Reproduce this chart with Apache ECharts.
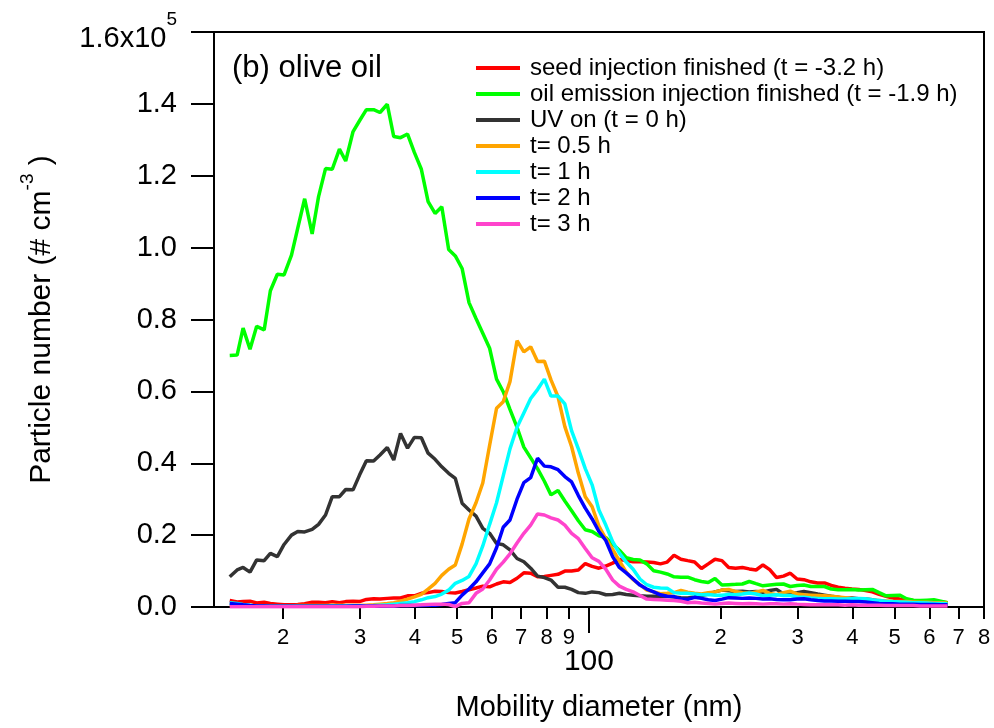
<!DOCTYPE html>
<html>
<head>
<meta charset="utf-8">
<script src="https://cdn.jsdelivr.net/npm/echarts@6/dist/echarts.min.js"></script>
<style>
html, body { margin: 0; padding: 0; background: #fff; }
#chart { width: 994px; height: 728px; }
</style>
</head>
<body>
<div id="chart"></div>
<script>
// mobility diameter channels (nm)
var diameter = [
    15.1, 15.7, 16.2, 16.8, 17.4, 18.1, 18.7, 19.4, 20.1, 20.9,
    21.6, 22.4, 23.3, 24.1, 25.0, 25.9, 26.9, 27.8, 28.9, 29.9,
    31.0, 32.2, 33.3, 34.6, 35.8, 37.1, 38.5, 39.9, 41.4, 42.9,
    44.5, 46.1, 47.8, 49.5, 51.3, 53.2, 55.2, 57.2, 59.3, 61.5,
    63.7, 66.0, 68.5, 71.0, 73.6, 76.3, 79.1, 81.9, 85.0, 88.1,
    91.3, 94.6, 98.1, 101.7, 105.4, 109.3, 113.3, 117.4, 121.7, 126.2,
    130.8, 135.6, 140.6, 145.7, 151.0, 156.5, 162.3, 168.2, 174.4, 180.8,
    187.4, 194.2, 201.4, 208.7, 216.4, 224.3, 232.5, 241.0, 249.9, 259.0,
    268.5, 278.4, 288.6, 299.1, 310.1, 321.5, 333.3, 345.5, 358.1, 371.3,
    384.9, 399.0, 413.6, 428.7, 444.5, 460.7, 477.6, 495.1, 513.3, 532.1,
    551.6, 571.8, 592.8, 614.5, 637.0, 660.3
];

// particle number, x10^5 cm^-3
var seedFinished = [
    0.018, 0.014, 0.015, 0.016, 0.011, 0.013, 0.010, 0.008, 0.006, 0.006,
    0.007, 0.009, 0.013, 0.013, 0.012, 0.015, 0.012, 0.015, 0.016, 0.015,
    0.021, 0.023, 0.022, 0.024, 0.025, 0.025, 0.031, 0.031, 0.038, 0.040,
    0.044, 0.043, 0.040, 0.039, 0.043, 0.048, 0.053, 0.058, 0.056, 0.064,
    0.070, 0.068, 0.080, 0.095, 0.094, 0.084, 0.085, 0.088, 0.091, 0.100,
    0.100, 0.103, 0.121, 0.113, 0.108, 0.114, 0.122, 0.132, 0.129, 0.126,
    0.126, 0.125, 0.124, 0.120, 0.125, 0.144, 0.133, 0.129, 0.125, 0.107,
    0.120, 0.133, 0.129, 0.110, 0.108, 0.110, 0.106, 0.103, 0.117, 0.104,
    0.082, 0.086, 0.094, 0.078, 0.076, 0.070, 0.067, 0.067, 0.060, 0.055,
    0.052, 0.050, 0.049, 0.046, 0.042, 0.035, 0.030, 0.025, 0.022, 0.020,
    0.018, 0.017, 0.016, 0.015, 0.014, 0.012
];
var oilFinished = [
    0.700, 0.701, 0.776, 0.717, 0.781, 0.771, 0.880, 0.926, 0.924, 0.979,
    1.054, 1.136, 1.038, 1.142, 1.220, 1.218, 1.274, 1.241, 1.323, 1.353,
    1.384, 1.384, 1.376, 1.399, 1.309, 1.306, 1.316, 1.265, 1.218, 1.128,
    1.095, 1.114, 0.995, 0.977, 0.942, 0.847, 0.803, 0.762, 0.720, 0.634,
    0.599, 0.550, 0.500, 0.445, 0.415, 0.385, 0.350, 0.312, 0.324, 0.295,
    0.268, 0.240, 0.215, 0.210, 0.198, 0.193, 0.175, 0.158, 0.137, 0.132,
    0.131, 0.120, 0.101, 0.097, 0.092, 0.084, 0.083, 0.083, 0.076, 0.071,
    0.068, 0.079, 0.061, 0.062, 0.063, 0.064, 0.071, 0.065, 0.059, 0.061,
    0.063, 0.064, 0.057, 0.060, 0.061, 0.057, 0.057, 0.057, 0.050, 0.048,
    0.048, 0.049, 0.047, 0.048, 0.049, 0.040, 0.031, 0.032, 0.033, 0.023,
    0.019, 0.018, 0.019, 0.020, 0.016, 0.012
];
var uvOn = [
    0.084, 0.103, 0.110, 0.097, 0.131, 0.129, 0.149, 0.140, 0.174, 0.200,
    0.210, 0.209, 0.216, 0.230, 0.256, 0.307, 0.307, 0.327, 0.326, 0.367,
    0.407, 0.406, 0.423, 0.444, 0.409, 0.483, 0.442, 0.472, 0.471, 0.428,
    0.411, 0.390, 0.372, 0.358, 0.289, 0.270, 0.253, 0.219, 0.205, 0.177,
    0.173, 0.159, 0.135, 0.126, 0.108, 0.086, 0.082, 0.075, 0.055, 0.055,
    0.049, 0.040, 0.038, 0.042, 0.040, 0.034, 0.035, 0.038, 0.035, 0.033,
    0.031, 0.030, 0.030, 0.029, 0.030, 0.028, 0.026, 0.025, 0.028, 0.032,
    0.036, 0.042, 0.047, 0.045, 0.043, 0.044, 0.042, 0.043, 0.041, 0.046,
    0.049, 0.036, 0.038, 0.040, 0.043, 0.040, 0.036, 0.033, 0.030, 0.027,
    0.024, 0.025, 0.023, 0.022, 0.020, 0.016, 0.013, 0.012, 0.012, 0.011,
    0.010, 0.010, 0.009, 0.009, 0.008, 0.008
];
var t05h = [
    0.006, 0.005, 0.004, 0.003, 0.002, 0.002, 0.002, 0.002, 0.003, 0.003,
    0.004, 0.004, 0.004, 0.004, 0.004, 0.005, 0.005, 0.004, 0.004, 0.004,
    0.005, 0.006, 0.008, 0.010, 0.012, 0.016, 0.022, 0.028, 0.035, 0.050,
    0.066, 0.088, 0.105, 0.117, 0.175, 0.245, 0.290, 0.345, 0.450, 0.553,
    0.571, 0.627, 0.741, 0.710, 0.724, 0.683, 0.684, 0.632, 0.585, 0.502,
    0.446, 0.372, 0.307, 0.279, 0.225, 0.190, 0.160, 0.128, 0.097, 0.076,
    0.062, 0.047, 0.042, 0.037, 0.038, 0.040, 0.046, 0.041, 0.038, 0.036,
    0.040, 0.042, 0.047, 0.049, 0.043, 0.040, 0.038, 0.042, 0.046, 0.038,
    0.034, 0.040, 0.044, 0.036, 0.034, 0.033, 0.032, 0.031, 0.030, 0.028,
    0.026, 0.024, 0.022, 0.020, 0.019, 0.018, 0.017, 0.016, 0.015, 0.015,
    0.014, 0.013, 0.013, 0.012, 0.012, 0.011
];
var t1h = [
    0.012, 0.010, 0.007, 0.005, 0.003, 0.002, 0.002, 0.002, 0.002, 0.002,
    0.002, 0.002, 0.002, 0.002, 0.002, 0.003, 0.003, 0.003, 0.003, 0.003,
    0.003, 0.004, 0.005, 0.006, 0.008, 0.010, 0.012, 0.015, 0.020, 0.026,
    0.029, 0.036, 0.047, 0.066, 0.074, 0.085, 0.120, 0.170, 0.230, 0.290,
    0.365, 0.440, 0.500, 0.540, 0.580, 0.605, 0.634, 0.587, 0.587, 0.565,
    0.490, 0.440, 0.385, 0.340, 0.270, 0.228, 0.182, 0.150, 0.125, 0.105,
    0.078, 0.062, 0.055, 0.053, 0.052, 0.040, 0.038, 0.038, 0.036, 0.034,
    0.035, 0.033, 0.033, 0.035, 0.034, 0.036, 0.039, 0.036, 0.031, 0.033,
    0.034, 0.032, 0.032, 0.028, 0.027, 0.025, 0.024, 0.023, 0.023, 0.022,
    0.022, 0.023, 0.024, 0.023, 0.020, 0.018, 0.016, 0.015, 0.014, 0.013,
    0.012, 0.012, 0.011, 0.010, 0.010, 0.009
];
var t2h = [
    0.010, 0.008, 0.006, 0.004, 0.003, 0.003, 0.002, 0.002, 0.002, 0.002,
    0.002, 0.002, 0.002, 0.002, 0.002, 0.002, 0.002, 0.002, 0.003, 0.003,
    0.003, 0.003, 0.003, 0.003, 0.003, 0.004, 0.004, 0.004, 0.004, 0.005,
    0.005, 0.007, 0.010, 0.012, 0.033, 0.050, 0.070, 0.095, 0.120, 0.165,
    0.222, 0.242, 0.300, 0.346, 0.360, 0.414, 0.392, 0.390, 0.382, 0.363,
    0.348, 0.310, 0.275, 0.245, 0.210, 0.185, 0.140, 0.110, 0.095, 0.078,
    0.061, 0.050, 0.042, 0.034, 0.030, 0.029, 0.022, 0.021, 0.027, 0.024,
    0.020, 0.018, 0.022, 0.026, 0.025, 0.024, 0.025, 0.024, 0.022, 0.023,
    0.021, 0.020, 0.020, 0.022, 0.023, 0.020, 0.018, 0.017, 0.017, 0.016,
    0.016, 0.015, 0.015, 0.014, 0.012, 0.010, 0.009, 0.009, 0.008, 0.008,
    0.008, 0.007, 0.007, 0.007, 0.006, 0.006
];
var t3h = [
    0.001, 0.001, 0.001, 0.001, 0.001, 0.001, 0.001, 0.001, 0.001, 0.001,
    0.001, 0.001, 0.001, 0.001, 0.001, 0.001, 0.001, 0.001, 0.001, 0.001,
    0.002, 0.002, 0.003, 0.003, 0.003, 0.004, 0.004, 0.005, 0.006, 0.007,
    0.008, 0.008, 0.007, 0.001, 0.010, 0.012, 0.038, 0.050, 0.075, 0.105,
    0.125, 0.148, 0.178, 0.205, 0.228, 0.259, 0.256, 0.248, 0.242, 0.228,
    0.205, 0.190, 0.163, 0.137, 0.127, 0.105, 0.075, 0.058, 0.049, 0.042,
    0.032, 0.022, 0.021, 0.020, 0.019, 0.018, 0.016, 0.012, 0.013, 0.011,
    0.010, 0.008, 0.010, 0.011, 0.010, 0.009, 0.010, 0.009, 0.008, 0.009,
    0.009, 0.008, 0.009, 0.008, 0.007, 0.006, 0.006, 0.006, 0.006, 0.006,
    0.005, 0.006, 0.005, 0.005, 0.005, 0.005, 0.004, 0.004, 0.004, 0.004,
    0.004, 0.003, 0.003, 0.003, 0.003, 0.003
];

var seriesNames = [
    'seed injection finished (t = -3.2 h)',
    'oil emission injection finished (t = -1.9 h)',
    'UV on (t = 0 h)',
    't= 0.5 h',
    't= 1 h',
    't= 2 h',
    't= 3 h'
];
var seriesValues = [seedFinished, oilFinished, uvOn, t05h, t1h, t2h, t3h];
var seriesColors = ['#ff0000', '#00ff00', '#333333', '#ffa500', '#00ffff', '#0000ff', '#ff44cc'];

// log axis tick positions
var minorTicks = [20, 30, 40, 50, 60, 70, 80, 90, 200, 300, 400, 500, 600, 700, 800];
var majorTicks = [100];

var FONT = '"Liberation Sans", Arial, Helvetica, sans-serif';

var chart = echarts.init(document.getElementById('chart'));

var series = [];
for (var k = 0; k < seriesNames.length; k++) {
    series.push({
        name: seriesNames[k],
        type: 'line',
        xAxisIndex: 0,
        showSymbol: false,
        symbol: 'none',
        color: seriesColors[k],
        lineStyle: {color: seriesColors[k], width: 3.5},
        data: diameter.map(function (d, i) { return [d, seriesValues[k][i]]; })
    });
}

var option = {
    animation: false,
    backgroundColor: '#ffffff',
    textStyle: {fontFamily: FONT},
    grid: {
        left: 214, right: 10, top: 32, bottom: 121,
        show: true, borderColor: '#000', borderWidth: 2,
        backgroundColor: 'transparent',
        containLabel: false, outerBoundsMode: 'none'
    },
    legend: {
        orient: 'vertical',
        left: 476, top: 56, padding: 0,
        itemWidth: 44, itemHeight: 4, itemGap: 2,
        icon: 'rect',
        textStyle: {fontSize: 24, color: '#000', fontFamily: FONT, padding: [0, 0, 0, 5]},
        data: seriesNames
    },
    graphic: [{
        type: 'text', left: 232, top: 53,
        style: {text: '(b) olive oil', fontSize: 31, fill: '#000', fontFamily: FONT}
    }],
    xAxis: [{
        type: 'log', logBase: 10, min: 13.9, max: 800,
        axisLine: {show: true, lineStyle: {color: '#000', width: 2}},
        axisTick: {show: true, inside: false, length: 12, customValues: minorTicks,
            lineStyle: {color: '#000', width: 2}},
        axisLabel: {show: true, customValues: minorTicks, fontSize: 22, color: '#000', margin: 20,
            fontFamily: FONT,
            formatter: function (v) {
                var p = Math.pow(10, Math.floor(Math.log10(v) + 1e-9));
                return String(Math.round(v / p));
            }},
        splitLine: {show: false},
        minorTick: {show: false},
        name: 'Mobility diameter (nm)', nameLocation: 'middle', nameGap: 86,
        nameTextStyle: {fontSize: 29, color: '#000', fontFamily: FONT}
    }, {
        type: 'log', logBase: 10, min: 13.9, max: 800, position: 'bottom',
        axisLine: {show: false},
        axisTick: {show: true, inside: false, length: 26, customValues: majorTicks,
            lineStyle: {color: '#000', width: 2}},
        axisLabel: {show: true, customValues: majorTicks, fontSize: 30, color: '#000', margin: 40,
            fontFamily: FONT},
        splitLine: {show: false}
    }],
    yAxis: {
        type: 'value', min: 0, max: 1.6, interval: 0.2,
        axisLine: {show: true, lineStyle: {color: '#000', width: 2}},
        axisTick: {show: true, inside: false, length: 23, lineStyle: {color: '#000', width: 2}},
        axisLabel: {
            show: true, fontSize: 29, color: '#000', margin: 37, fontFamily: FONT,
            showMinLabel: true, showMaxLabel: true,
            formatter: function (v) {
                if (Math.abs(v - 1.6) < 1e-9) return '{m|1.6x10}{s|5}';
                return v.toFixed(1);
            },
            rich: {
                m: {fontSize: 29, color: '#000', fontFamily: FONT, padding: [14, 0, 0, 0]},
                s: {fontSize: 19, color: '#000', fontFamily: FONT, verticalAlign: 'top'}
            }
        },
        splitLine: {show: false},
        name: '{n|Particle number (# cm}{s|-3}{n| )}', nameLocation: 'middle', nameGap: 157,
        nameTextStyle: {
            fontSize: 30, color: '#000', fontFamily: FONT,
            rich: {
                n: {fontSize: 30, color: '#000', fontFamily: FONT, padding: [9, 0, 0, 0]},
                s: {fontSize: 19, color: '#000', fontFamily: FONT, verticalAlign: 'top'}
            }
        }
    },
    series: series
};

chart.setOption(option);
</script>
</body>
</html>
